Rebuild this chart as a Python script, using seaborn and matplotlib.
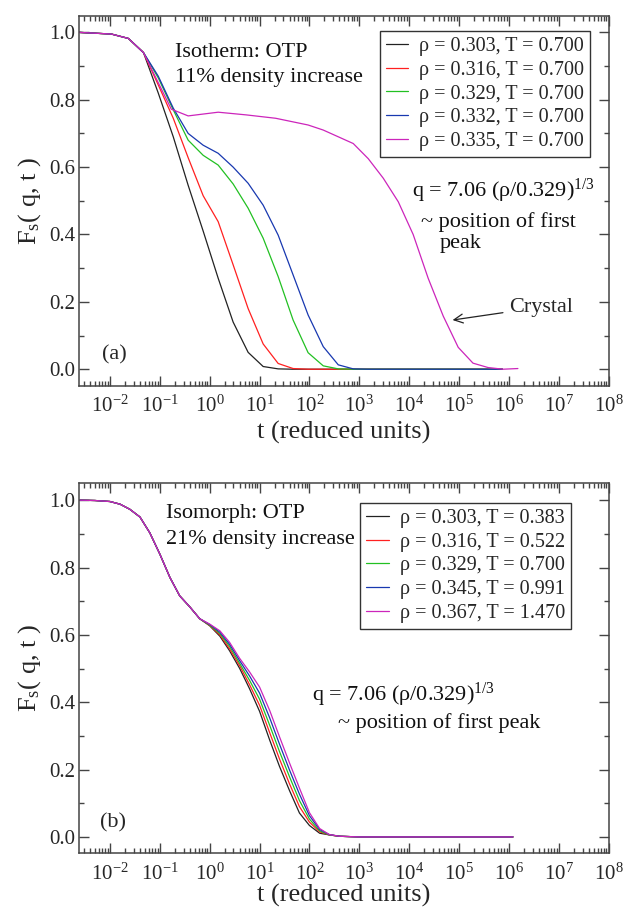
import numpy as np
import pandas as pd
import matplotlib
matplotlib.use("Agg")
import matplotlib.pyplot as plt
import seaborn as sns
from matplotlib.ticker import FixedLocator, FixedFormatter, MultipleLocator, NullFormatter

# ---------------- data: panel (a) isotherm ----------------
labels_a = ["ρ = 0.303, T = 0.700", "ρ = 0.316, T = 0.700", "ρ = 0.329, T = 0.700",
            "ρ = 0.332, T = 0.700", "ρ = 0.335, T = 0.700"]

t_a = [0.0024, 0.0107, 0.0234, 0.047, 0.093, 0.186, 0.37, 0.74, 1.48, 2.95, 5.9, 11.8,
       23.6, 47, 94, 189, 378, 755, 1510, 1e4, 1e5, 7.4e5]
F_a_303 = [1.0, 0.995, 0.982, 0.94, 0.82, 0.69, 0.546, 0.41, 0.27, 0.14, 0.05, 0.008,
           0.001, 0.0, 0.0, 0.0, 0.0, 0.0, 0.0, 0.0, 0.0, 0.0]
F_a_316 = [1.0, 0.995, 0.982, 0.94, 0.844, 0.745, 0.628, 0.515, 0.438, 0.31, 0.18, 0.075,
           0.017, 0.002, 0.0, 0.0, 0.0, 0.0, 0.0, 0.0, 0.0, 0.0]
F_a_329 = [1.0, 0.995, 0.982, 0.94, 0.865, 0.77, 0.68, 0.635, 0.606, 0.55, 0.478, 0.389,
           0.275, 0.146, 0.049, 0.01, 0.001, 0.0, 0.0, 0.0, 0.0, 0.0]
F_a_332 = [1.0, 0.995, 0.982, 0.94, 0.87, 0.775, 0.70, 0.665, 0.641, 0.60, 0.552, 0.487,
           0.398, 0.28, 0.161, 0.067, 0.013, 0.001, 0.0, 0.0, 0.0, 0.0]
t_a_335 = [0.0024, 0.0107, 0.0234, 0.047, 0.17, 0.37, 1.48, 5.4, 21, 94, 189, 378, 755,
           1510, 3020, 6040, 12000, 24000, 48000, 96000, 190000, 380000, 760000, 1510000]
F_a_335 = [1.0, 0.995, 0.982, 0.94, 0.772, 0.752, 0.763, 0.755, 0.745, 0.725, 0.71, 0.69,
           0.67, 0.625, 0.567, 0.497, 0.40, 0.27, 0.158, 0.065, 0.018, 0.005, 0.0, 0.002]

# ---------------- data: panel (b) isomorph ----------------
labels_b = ["ρ = 0.303, T = 0.383", "ρ = 0.316, T = 0.522", "ρ = 0.329, T = 0.700",
            "ρ = 0.345, T = 0.991", "ρ = 0.367, T = 1.470"]
t_b = [0.0025, 0.005, 0.01, 0.016, 0.025, 0.04, 0.063, 0.1, 0.16, 0.25, 0.4, 0.63, 1.0,
       1.6, 2.5, 4.0, 6.3, 10, 16, 25, 40, 63, 100, 160, 250, 400, 1000, 1e4, 1e5, 1.2e6]
F_b_early = [1.0, 0.999, 0.996, 0.988, 0.973, 0.95, 0.903, 0.84, 0.77, 0.716, 0.683, 0.648]
F_b_303 = F_b_early + [0.627, 0.596, 0.553, 0.500, 0.440, 0.373, 0.287, 0.210, 0.137, 0.071,
                       0.034, 0.011, 0.006, 0.002, 0.0, 0.0, 0.0, 0.0]
F_b_316 = F_b_early + [0.628, 0.600, 0.559, 0.508, 0.452, 0.391, 0.309, 0.232, 0.157, 0.090,
                       0.044, 0.015, 0.006, 0.002, 0.0, 0.0, 0.0, 0.0]
F_b_329 = F_b_early + [0.629, 0.604, 0.566, 0.515, 0.465, 0.409, 0.331, 0.254, 0.178, 0.108,
                       0.053, 0.018, 0.006, 0.002, 0.0, 0.0, 0.0, 0.0]
F_b_345 = F_b_early + [0.631, 0.608, 0.572, 0.523, 0.478, 0.427, 0.353, 0.276, 0.198, 0.127,
                       0.063, 0.022, 0.007, 0.002, 0.0, 0.0, 0.0, 0.0]
F_b_367 = F_b_early + [0.632, 0.612, 0.578, 0.530, 0.490, 0.445, 0.375, 0.298, 0.219, 0.145,
                       0.072, 0.025, 0.007, 0.002, 0.0, 0.0, 0.0, 0.0]

colors = ["#222222", "#ff2020", "#22c022", "#1838b0", "#cc25bb"]

x_major = [1e-2, 1e-1, 1e0, 1e1, 1e2, 1e3, 1e4, 1e5, 1e6, 1e7, 1e8]
x_major_labels = [r"$\mathregular{10^{-2}}$", r"$\mathregular{10^{-1}}$", r"$\mathregular{10^{0}}$",
                  r"$\mathregular{10^{1}}$", r"$\mathregular{10^{2}}$", r"$\mathregular{10^{3}}$",
                  r"$\mathregular{10^{4}}$", r"$\mathregular{10^{5}}$", r"$\mathregular{10^{6}}$",
                  r"$\mathregular{10^{7}}$", r"$\mathregular{10^{8}}$"]

# ---------------- build long tables ----------------
def long_df(series):
    frames = []
    for lab, t, f in series:
        frames.append(pd.DataFrame({"t": t, "F": f, "state": lab}))
    return pd.concat(frames, ignore_index=True)

df_a = long_df([(labels_a[0], t_a, F_a_303), (labels_a[1], t_a, F_a_316),
                (labels_a[2], t_a, F_a_329), (labels_a[3], t_a, F_a_332),
                (labels_a[4], t_a_335, F_a_335)])
df_b = long_df([(labels_b[0], t_b, F_b_303), (labels_b[1], t_b, F_b_316),
                (labels_b[2], t_b, F_b_329), (labels_b[3], t_b, F_b_345),
                (labels_b[4], t_b, F_b_367)])

# ---------------- style ----------------
sns.set_theme(style="ticks")
plt.rcParams["font.family"] = ["Liberation Serif", "DejaVu Serif"]
plt.rcParams["mathtext.fontset"] = "custom"
plt.rcParams["mathtext.rm"] = "Liberation Serif"
plt.rcParams["mathtext.it"] = "Liberation Serif:italic"
plt.rcParams["mathtext.bf"] = "Liberation Serif:bold"
spine_c = "#444444"

fig = plt.figure(figsize=(6.26, 9.08), dpi=100)
ax_a = fig.add_axes([0.1267, 0.5752, 0.8457, 0.4077])
ax_b = fig.add_axes([0.1267, 0.0601, 0.8457, 0.4076])

xmin = 10 ** -2.614
minor_ticks = [m * d for d in x_major[:-1] for m in range(2, 10)]
minor_ticks = [v for v in [0.003, 0.004, 0.005, 0.006, 0.007, 0.008, 0.009] + minor_ticks
               if v > xmin]

for ax, df, labels, legtop, xpad in [(ax_a, df_a, labels_a, (0.9425, 0.9655), 3),
                                     (ax_b, df_b, labels_b, (0.912, 0.4457), 0)]:
    sns.lineplot(data=df, x="t", y="F", hue="state", hue_order=labels,
                 palette=colors, estimator=None, sort=False, lw=0.9, ax=ax)
    ax.set_xscale("log")
    ax.set_xlim(xmin, 1e8)
    ax.set_ylim(-0.049, 1.05)
    ax.xaxis.set_major_locator(FixedLocator(x_major))
    ax.xaxis.set_major_formatter(FixedFormatter(x_major_labels))
    ax.xaxis.set_minor_locator(FixedLocator(minor_ticks))
    ax.xaxis.set_minor_formatter(NullFormatter())
    ax.yaxis.set_major_locator(MultipleLocator(0.2))
    ax.yaxis.set_minor_locator(MultipleLocator(0.1))
    ax.yaxis.set_major_formatter(plt.FuncFormatter(lambda v, p: f"{v:.1f}"))
    ax.tick_params(which="both", direction="in", top=True, right=True,
                   color=spine_c, width=1.0)
    ax.tick_params(which="major", length=7, labelsize=15)
    ax.tick_params(axis="x", which="major", pad=7)
    ax.tick_params(axis="y", which="major", pad=3)
    ax.tick_params(which="minor", length=3.5)
    for s in ax.spines.values():
        s.set_color(spine_c)
        s.set_linewidth(1.1)
    ax.set_xlabel("t (reduced units)", fontsize=19, labelpad=xpad)
    ax.set_ylabel(r"F$_{\mathrm{s}}$( q, t )", fontsize=19, labelpad=4)
    h, l = ax.get_legend_handles_labels()
    leg = ax.legend(h, l, loc="upper right", bbox_to_anchor=legtop,
                    bbox_transform=fig.transFigure, borderaxespad=0, fontsize=14.5,
                    frameon=True, fancybox=False, edgecolor="#333333", framealpha=1,
                    handlelength=1.1, handletextpad=0.55, labelspacing=0.22,
                    borderpad=0.3)
    leg.get_frame().set_linewidth(1.0)

txt_kw = dict(fontsize=16, color="#111111", va="baseline", ha="left")
# panel (a) annotations
ax_a.text(0.2, 0.928, "Isotherm: OTP", **txt_kw)
ax_a.text(0.2, 0.853, "11% density increase", **txt_kw)
ax_a.text(1.13e4, 0.512, r"q = 7.06 (ρ/0.329)$^{\mathrm{1/3}}$", **txt_kw)
ax_a.text(1.7e4, 0.423, "~ position of first", **txt_kw)
ax_a.text(4.0e4, 0.359, "peak", **txt_kw)
ax_a.annotate("Crystal", xy=(10 ** 4.87, 0.146), xytext=(1e6, 0.171),
              fontsize=16, va="baseline", ha="left",
              arrowprops=dict(arrowstyle="->", color="#222222", lw=0.9,
                              shrinkA=2, shrinkB=0))
ax_a.text(0.0068, 0.042, "(a)", fontsize=16, va="center", ha="left")
# panel (b) annotations
ax_b.text(0.132, 0.948, "Isomorph: OTP", **txt_kw)
ax_b.text(0.132, 0.869, "21% density increase", **txt_kw)
ax_b.text(115, 0.405, r"q = 7.06 (ρ/0.329)$^{\mathrm{1/3}}$", **txt_kw)
ax_b.text(373, 0.322, "~ position of first peak", **txt_kw)
ax_b.text(0.0062, 0.041, "(b)", fontsize=16, va="center", ha="left")

fig.savefig("out.png", dpi=100)
